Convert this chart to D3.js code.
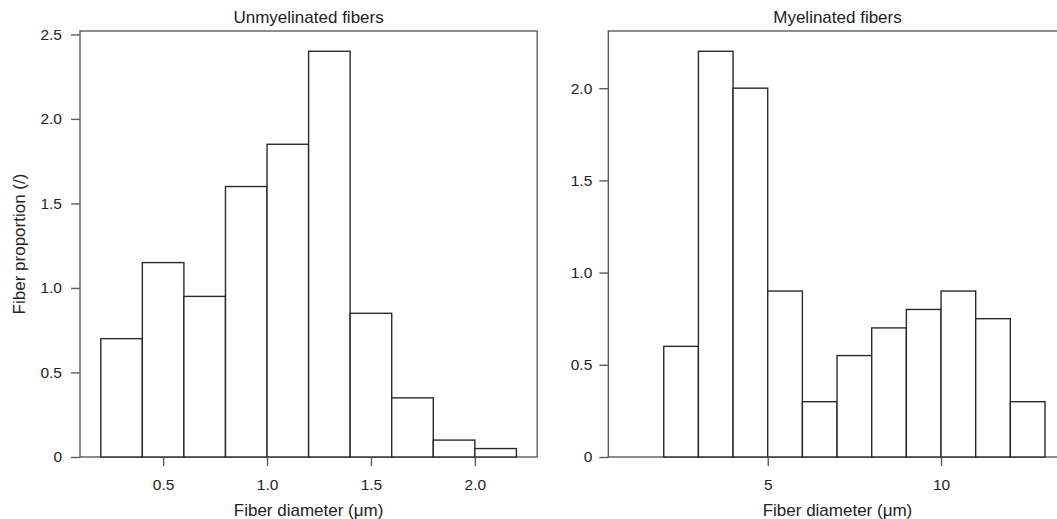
<!DOCTYPE html>
<html>
<head>
<meta charset="utf-8">
<script src="https://cdn.jsdelivr.net/npm/d3@7"></script>
<style>
  html, body { margin: 0; padding: 0; background: #fff; }
  svg { display: block; }
  text { font-family: "Liberation Sans", Arial, Helvetica, sans-serif; fill: #222; }
</style>
</head>
<body>
<svg id="chart" width="1057" height="519"></svg>
<script>
// ---- Data ----
const unmyelEdges  = [0.2, 0.4, 0.6, 0.8, 1.0, 1.2, 1.4, 1.6, 1.8, 2.0, 2.2];
const unmyelValues = [0.7, 1.15, 0.95, 1.6, 1.85, 2.4, 0.85, 0.35, 0.1, 0.05];
const unmyelXTicks = [0.5, 1.0, 1.5, 2.0];
const unmyelXTickLabels = ["0.5", "1.0", "1.5", "2.0"];
const unmyelYTicks = [0, 0.5, 1.0, 1.5, 2.0, 2.5];
const unmyelYTickLabels = ["0", "0.5", "1.0", "1.5", "2.0", "2.5"];

const myelEdges  = [1, 2, 3, 4, 5, 6, 7, 8, 9, 10, 11, 12, 13];
const myelValues = [0, 0.6, 2.2, 2.0, 0.9, 0.3, 0.55, 0.7, 0.8, 0.9, 0.75, 0.3];
const myelXTicks = [5, 10];
const myelXTickLabels = ["5", "10"];
const myelYTicks = [0, 0.5, 1.0, 1.5, 2.0];
const myelYTickLabels = ["0", "0.5", "1.0", "1.5", "2.0"];

const titles = ["Unmyelinated fibers", "Myelinated fibers"];
const xLabel = "Fiber diameter (\u03BCm)";
const yLabel = "Fiber proportion (/)";

// ---- Layout ----
const svg = d3.select("#chart");
const plotTop = 31, plotBottom = 457;

const panels = [
  { title: titles[0], edges: unmyelEdges, values: unmyelValues,
    xDomain: [0.1, 2.3], yDomain: [0, 2.52], xRange: [80, 537.2],
    xTicks: unmyelXTicks, xTickLabels: unmyelXTickLabels,
    yTicks: unmyelYTicks, yTickLabels: unmyelYTickLabels, yPad: 9 },
  { title: titles[1], edges: myelEdges, values: myelValues,
    xDomain: [0.4, 13.6], yDomain: [0, 2.31], xRange: [608.3, 1065.8],
    xTicks: myelXTicks, xTickLabels: myelXTickLabels,
    yTicks: myelYTicks, yTickLabels: myelYTickLabels, yPad: 7 }
];

panels.forEach((p, pi) => {
  const x = d3.scaleLinear().domain(p.xDomain).range(p.xRange);
  const y = d3.scaleLinear().domain(p.yDomain).range([plotBottom, plotTop]);
  const g = svg.append("g");

  // frame
  g.append("rect")
    .attr("x", p.xRange[0]).attr("y", plotTop)
    .attr("width", p.xRange[1] - p.xRange[0]).attr("height", plotBottom - plotTop)
    .attr("fill", "none").attr("stroke", "#5c5c5c").attr("stroke-width", 1.4);

  // bars
  const bins = p.values.map((v, i) => ({ x0: p.edges[i], x1: p.edges[i + 1], v }));
  g.selectAll("rect.bar").data(bins).enter().append("rect")
    .attr("class", "bar")
    .attr("x", d => x(d.x0))
    .attr("y", d => y(d.v))
    .attr("width", d => x(d.x1) - x(d.x0))
    .attr("height", d => y(0) - y(d.v))
    .attr("fill", "#fff")
    .attr("stroke", "#2a2a2a").attr("stroke-width", 1.4);

  // y axis
  const yAxis = d3.axisLeft(y).tickValues(p.yTicks)
    .tickFormat((d, i) => p.yTickLabels[i]).tickSize(9).tickPadding(p.yPad);
  const ya = g.append("g").attr("transform", `translate(${p.xRange[0]},0)`).call(yAxis);
  ya.select(".domain").remove();
  ya.selectAll(".tick line").attr("stroke", "#5c5c5c").attr("stroke-width", 1.4);
  ya.selectAll(".tick text").attr("font-size", 15.5).attr("fill", "#222")
    .style("font-family", '"Liberation Sans", Arial, sans-serif');

  // x axis
  const xAxis = d3.axisBottom(x).tickValues(p.xTicks)
    .tickFormat((d, i) => p.xTickLabels[i]).tickSize(9).tickPadding(12.5);
  const xa = g.append("g").attr("transform", `translate(0,${plotBottom})`).call(xAxis);
  xa.select(".domain").remove();
  xa.selectAll(".tick line").attr("stroke", "#5c5c5c").attr("stroke-width", 1.4);
  xa.selectAll(".tick text").attr("font-size", 15.5).attr("fill", "#222")
    .style("font-family", '"Liberation Sans", Arial, sans-serif');

  const cx = pi === 0 ? (p.xRange[0] + p.xRange[1]) / 2 : 837.5;

  // title
  g.append("text").attr("x", cx).attr("y", 23)
    .attr("text-anchor", "middle").attr("font-size", 17).text(p.title);

  // x label
  g.append("text").attr("x", cx).attr("y", 516)
    .attr("text-anchor", "middle").attr("font-size", 17).text(xLabel);
});

// y label (left only)
svg.append("text")
  .attr("transform", `translate(24.5,${(plotTop + plotBottom) / 2}) rotate(-90)`)
  .attr("text-anchor", "middle").attr("font-size", 17).text(yLabel);
</script>
</body>
</html>
